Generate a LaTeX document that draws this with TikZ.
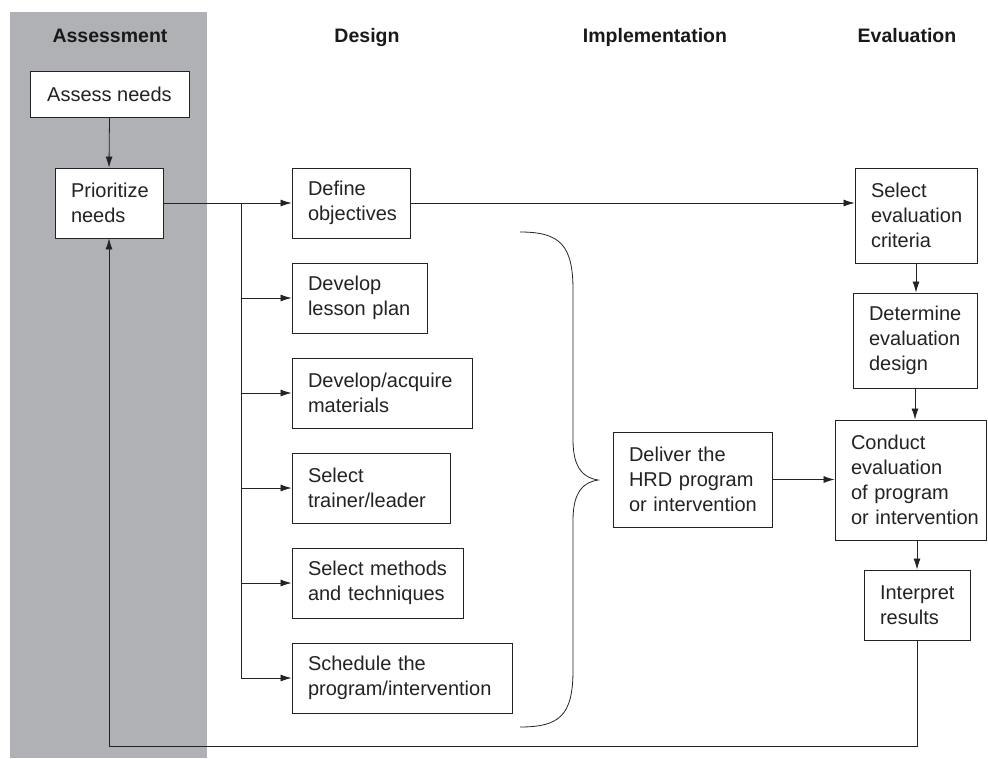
\documentclass[tikz,border=0pt]{standalone}
\usepackage{fontspec}
\setmainfont{Liberation Sans}
\usetikzlibrary{arrows.meta}
\definecolor{band}{RGB}{176,177,181}
\definecolor{ink}{RGB}{35,35,35}
\begin{document}
\begin{tikzpicture}[x=1pt,y=-1pt,
  box/.style={draw=ink,line width=0.9pt,fill=white,inner xsep=15pt,inner ysep=0pt,
    align=left,font=\fontsize{20}{25}\selectfont,text=ink,
    execute at begin node={\hyphenpenalty=10000\exhyphenpenalty=10000}},
  arr/.style={-{Latex[length=11pt,width=7pt]},line width=0.8pt,draw=ink},
  conn/.style={line width=0.8pt,draw=ink},
  hdr/.style={anchor=base,font=\fontsize{19.5}{22}\selectfont\bfseries,text=black!90}]
\useasboundingbox (0,0) rectangle (988,758);
\fill[band] (10,12) rectangle (207,758);

\node[hdr] (h1) at (110,42) {Assessment};
\node[hdr] (h2) at (367,42) {Design};
\node[hdr] (h3) at (655,42) {Implementation};
\node[hdr] (h4) at (907,42) {Evaluation};

\node[box,align=center,minimum width=159pt,minimum height=46pt] (assess) at (109.5,94) {\mbox{Assess needs}};
\node[box,text width=76pt,minimum width=108pt,minimum height=70pt] (prio) at (109,203) {\mbox{Prioritize}\\needs};
\node[box,text width=86pt,minimum width=118pt,minimum height=70pt] (define) at (351,203) {Define\\\mbox{objectives}};
\node[box,text width=103pt,minimum width=135pt,minimum height=70pt] (lesson) at (359.5,298) {Develop\\\mbox{lesson plan}};
\node[box,text width=148pt,minimum width=180pt,minimum height=70pt] (mat) at (382,393) {\mbox{Develop/acquire}\\materials};
\node[box,text width=126pt,minimum width=158pt,minimum height=70pt] (trainer) at (371,488) {Select\\\mbox{trainer/leader}};
\node[box,text width=139pt,minimum width=171pt,minimum height=70pt] (methods) at (377.5,583) {\mbox{Select methods}\\\mbox{and techniques}};
\node[box,text width=188pt,minimum width=220pt,minimum height=70pt] (sched) at (402,678) {\mbox{Schedule the}\\\mbox{program/intervention}};
\node[box,text width=127pt,minimum width=159pt,minimum height=95pt] (deliver) at (692.5,479.5) {\mbox{Deliver the}\\\mbox{HRD program}\\\mbox{or intervention}};
\node[box,text width=90pt,minimum width=122pt,minimum height=95pt] (crit) at (916,215.5) {Select\\\mbox{evaluation}\\criteria};
\node[box,text width=92pt,minimum width=124pt,minimum height=95pt] (design) at (915,340.5) {\mbox{Determine}\\\mbox{evaluation}\\design};
\node[box,text width=119pt,minimum width=151pt,minimum height=120pt] (conduct) at (910.5,480) {Conduct\\\mbox{evaluation}\\\mbox{of program}\\\mbox{or intervention}};
\node[box,text width=74pt,minimum width=106pt,minimum height=70pt] (interp) at (917,605) {\mbox{Interpret}\\results};

\coordinate (br) at (241,203);

\draw[arr] (assess.south) -- (prio.north);
\draw[arr] (prio.east) -- (define.west);
\draw[conn] (br) -- (br |- sched.west);
\draw[arr] (br |- lesson.west) -- (lesson.west);
\draw[arr] (br |- mat.west) -- (mat.west);
\draw[arr] (br |- trainer.west) -- (trainer.west);
\draw[arr] (br |- methods.west) -- (methods.west);
\draw[arr] (br |- sched.west) -- (sched.west);
\draw[arr] (define.east) -- (define.east -| crit.west);
\draw[arr] (deliver.east) -- (deliver.east -| conduct.west);
\draw[arr] (crit.south) -- (crit.south |- design.north);
\draw[arr] (design.south) -- (design.south |- conduct.north);
\draw[arr] (interp.north |- conduct.south) -- (interp.north);
\draw[arr] (interp.south) -- ++(0,106) -| (prio.south);

% brace
\draw[conn] (520,232) .. controls (560,232) and (573,245) .. (573,290) -- (573,440)
  .. controls (573,470) and (585,478) .. (598,480)
  .. controls (585,482) and (573,490) .. (573,520) -- (573,670)
  .. controls (573,715) and (560,727) .. (520,727);
\end{tikzpicture}
\end{document}
